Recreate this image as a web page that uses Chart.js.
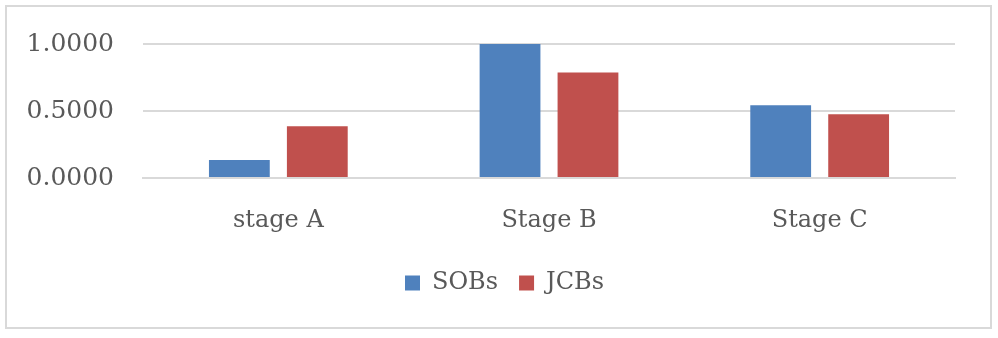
<!DOCTYPE html>
<html>
<head>
<meta charset="utf-8">
<style>
  html, body { margin: 0; padding: 0; background: #fff; }
  #stageChart { display: block; }
</style>
</head>
<body>
<canvas id="stageChart" width="998" height="338"></canvas>

<script src="https://cdn.jsdelivr.net/npm/chart.js"></script>
<script>
  // stage values per series
  const stages = ['stage A', 'Stage B', 'Stage C'];
  const sobs = [0.134, 1.0, 0.543];
  const jcbs = [0.387, 0.788, 0.476];
  const yTicks = [0, 0.5, 1.0];

  const textGray = '#595959';
  const lineGray = '#d9d9d9';
  const serif = '"DejaVu Serif", serif';

  // light frame around the whole chart, legend nudged to the page centre
  const frame = {
    id: 'frame',
    afterLayout(chart) {
      chart.legend.left += 17;
      chart.legend.right += 17;
    },
    beforeDraw(chart) {
      const c = chart.ctx;
      c.save();
      c.fillStyle = '#fff';
      c.fillRect(0, 0, chart.width, chart.height);
      c.strokeStyle = lineGray;
      c.lineWidth = 2;
      c.strokeRect(6, 6, 985, 322);
      c.restore();
    }
  };

  const ctx = document.getElementById('stageChart').getContext('2d');
  new Chart(ctx, {
    type: 'bar',
    data: {
      labels: stages,
      datasets: [
        { label: 'SOBs', data: sobs, backgroundColor: '#4F81BD' },
        { label: 'JCBs', data: jcbs, backgroundColor: '#C0504D' }
      ]
    },
    options: {
      responsive: false,
      animation: false,
      categoryPercentage: 0.576,
      barPercentage: 0.78,
      layout: { padding: { left: 20, right: 43, top: 30, bottom: 33 } },
      plugins: {
        tooltip: { enabled: false },
        legend: {
          position: 'bottom',
          labels: {
            boxWidth: 15,
            boxHeight: 15,
            padding: 21,
            color: textGray,
            font: { family: serif, size: 24 }
          }
        }
      },
      scales: {
        x: {
          grid: { display: false },
          border: { color: lineGray, width: 2 },
          ticks: {
            color: textGray,
            padding: 20,
            font: { family: serif, size: 24 }
          },
          afterFit(scale) { scale.height = 72; }
        },
        y: {
          min: 0,
          max: 1,
          afterBuildTicks(scale) {
            scale.ticks = yTicks.map(v => ({ value: v }));
          },
          grid: { color: lineGray, lineWidth: 2, drawTicks: false },
          border: { display: false },
          ticks: {
            color: textGray,
            padding: 29,
            font: { family: serif, size: 25 },
            callback: v => Number(v).toFixed(4)
          },
          afterFit(scale) { scale.width = 123; }
        }
      }
    },
    plugins: [frame]
  });
</script>
</body>
</html>
